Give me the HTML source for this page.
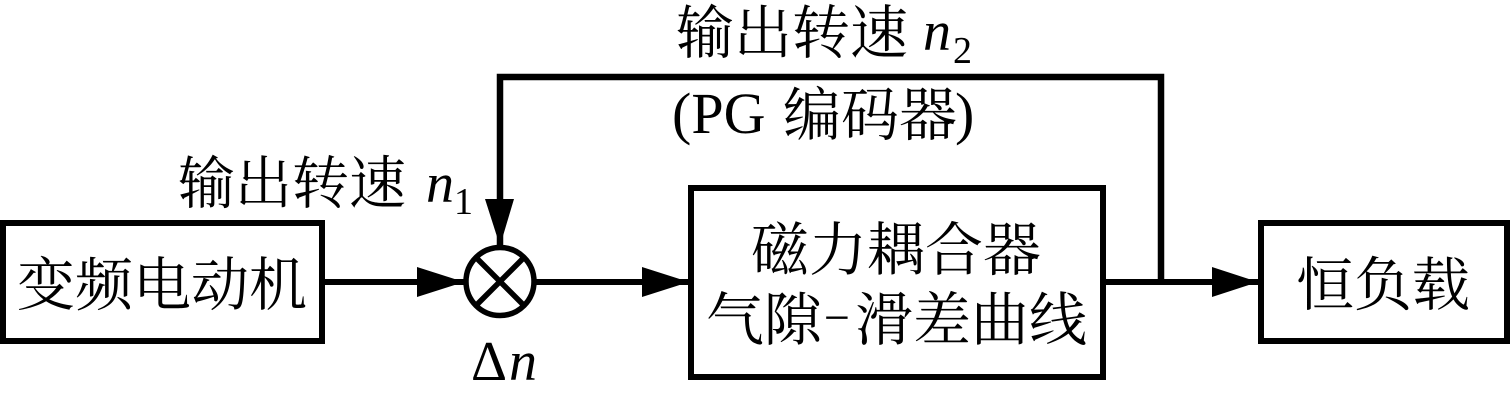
<!DOCTYPE html>
<html>
<head>
<meta charset="utf-8">
<style>
html,body{margin:0;padding:0;background:#fff;width:1510px;height:400px;overflow:hidden}
svg{display:block}
text{fill:#000;font-family:"Liberation Serif","Noto Serif CJK SC",serif}
</style>
</head>
<body>
<svg width="1510" height="400" viewBox="0 0 1510 400" xmlns="http://www.w3.org/2000/svg">
<g fill="none" stroke="#000" stroke-width="6">
<rect x="3" y="223" width="319" height="118"/>
<rect x="691" y="188" width="412" height="189"/>
<rect x="1261" y="223" width="246" height="118"/>
<circle cx="500" cy="281.5" r="34" stroke-width="5.5"/>
<path d="M476 257.5L524 305.5M524 257.5L476 305.5" stroke-width="5.5"/>
<path d="M322 282H464M534 282H689M1103 282H1258"/>
<path d="M1161 282V77H500V246" stroke-width="6.5"/>
</g>
<g fill="#000">
<polygon points="464,282 417,267 417,297"/>
<polygon points="689,282 642,267 642,297"/>
<polygon points="1258,282 1212,267 1212,297"/>
<polygon points="500,246 485,199 514,199"/>
</g>
<g font-size="58">
<text x="17" y="305">变频电动机</text>
<text x="1296" y="305">恒负载</text>
<text x="751" y="270">磁力耦合器</text>
<text x="706" y="340">气隙</text>
<text x="824" y="333" font-size="46">−</text>
<text x="855" y="340">滑差曲线</text>
<text x="178" y="203" font-size="57">输出转速</text>
<text x="676" y="53">输出转速</text>
<text x="672" y="133">(PG</text>
<text x="783" y="135">编码器</text>
<text x="955" y="133">)</text>
<text x="426" y="202" font-size="56" font-style="italic">n</text>
<text x="454" y="214" font-size="38">1</text>
<text x="923" y="50" font-size="56" font-style="italic">n</text>
<text x="953" y="63" font-size="38">2</text>
<text x="471" y="380" font-size="56">Δ</text>
<text x="509" y="380" font-size="56" font-style="italic">n</text>
</g>
</svg>
</body>
</html>
